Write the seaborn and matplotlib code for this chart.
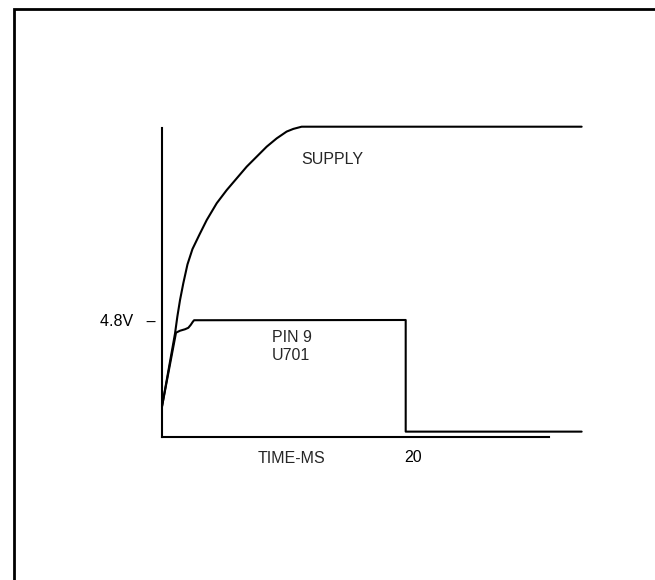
import seaborn as sns
import pandas as pd
from matplotlib import pyplot as plt
from matplotlib.lines import Line2D
from matplotlib.transforms import ScaledTranslation

# time in ms, level in volts
supply_t = [0.0, 1.07, 1.26, 1.48, 1.75, 2.09, 2.50, 3.08, 3.67, 4.49, 5.31,
            6.13, 6.95, 7.77, 8.59, 9.41, 10.23, 10.78, 11.46, 34.44]
supply_v = [1.25, 4.25, 4.94, 5.62, 6.31, 7.08, 7.71, 8.31, 8.90, 9.59, 10.13,
            10.61, 11.09, 11.50, 11.91, 12.25, 12.53, 12.64, 12.73, 12.73]

pin9_t = [0.0, 1.15, 1.48, 1.89, 2.16, 2.36, 2.52, 2.63, 20.0, 20.0, 34.44]
pin9_v = [1.25, 4.28, 4.36, 4.42, 4.48, 4.60, 4.72, 4.79, 4.80, 0.22, 0.22]

y_ticks = [4.8]
y_tick_labels = ["4.8V   \u2013"]
x_ticks = [20]
x_tick_labels = ["20"]
x_axis_end = 31.76
y_axis_end = 12.68

sns.set_style("white")
plt.rcParams['font.family'] = ['Liberation Sans', 'DejaVu Sans']

fig = plt.figure(figsize=(6.55, 5.8), dpi=100)
ax = fig.add_axes([0, 0, 1, 1])
ax.patch.set_alpha(0)

supply = pd.DataFrame({'t': supply_t, 'v': supply_v})
pin9 = pd.DataFrame({'t': pin9_t, 'v': pin9_v})
sns.lineplot(data=supply, x='t', y='v', sort=False, estimator=None,
             color='black', linewidth=1.5, ax=ax)
sns.lineplot(data=pin9, x='t', y='v', sort=False, estimator=None,
             color='black', linewidth=1.5, ax=ax)

ax.set_xlim(-13.295, 40.46)
ax.set_ylim(-5.867, 17.928)

for side in ['top', 'right']:
    ax.spines[side].set_visible(False)
for side in ['left', 'bottom']:
    ax.spines[side].set_position(('data', 0))
    ax.spines[side].set_color('black')
    ax.spines[side].set_linewidth(1.5)
ax.spines['left'].set_bounds(0, y_axis_end)
ax.spines['bottom'].set_bounds(0, x_axis_end)

ax.set_yticks(y_ticks)
ax.set_yticklabels(y_tick_labels)
ax.set_xticks(x_ticks)
ax.set_xticklabels(x_tick_labels)
ax.tick_params(axis='y', length=0, pad=4.3, labelsize=11.5, colors='black')
ax.tick_params(axis='x', length=0, pad=9.2, labelsize=11.5, colors='black')
for lab in ax.get_xticklabels():
    lab.set_transform(lab.get_transform() + ScaledTranslation(0.07, 0, fig.dpi_scale_trans))
ax.set_xlabel('')
ax.set_ylabel('')

ax.text(13.95, 11.20, 'SUPPLY', ha='center', va='baseline', fontsize=11.5)
ax.text(10.67, 3.91, 'PIN 9', ha='center', va='baseline', fontsize=11.5)
ax.text(10.55, 3.14, 'U701', ha='center', va='baseline', fontsize=11.5)
ax.text(10.59, -1.08, 'TIME-MS', ha='center', va='baseline', fontsize=11.5)

# page frame
fx = 14.2 / 655
fy = 1 - 8.7 / 580
fig.add_artist(Line2D([fx, fx, 1.0], [0.0, fy, fy], color='black',
                      linewidth=2.0, solid_joinstyle='miter'))

fig.savefig('out.png', dpi=100)
